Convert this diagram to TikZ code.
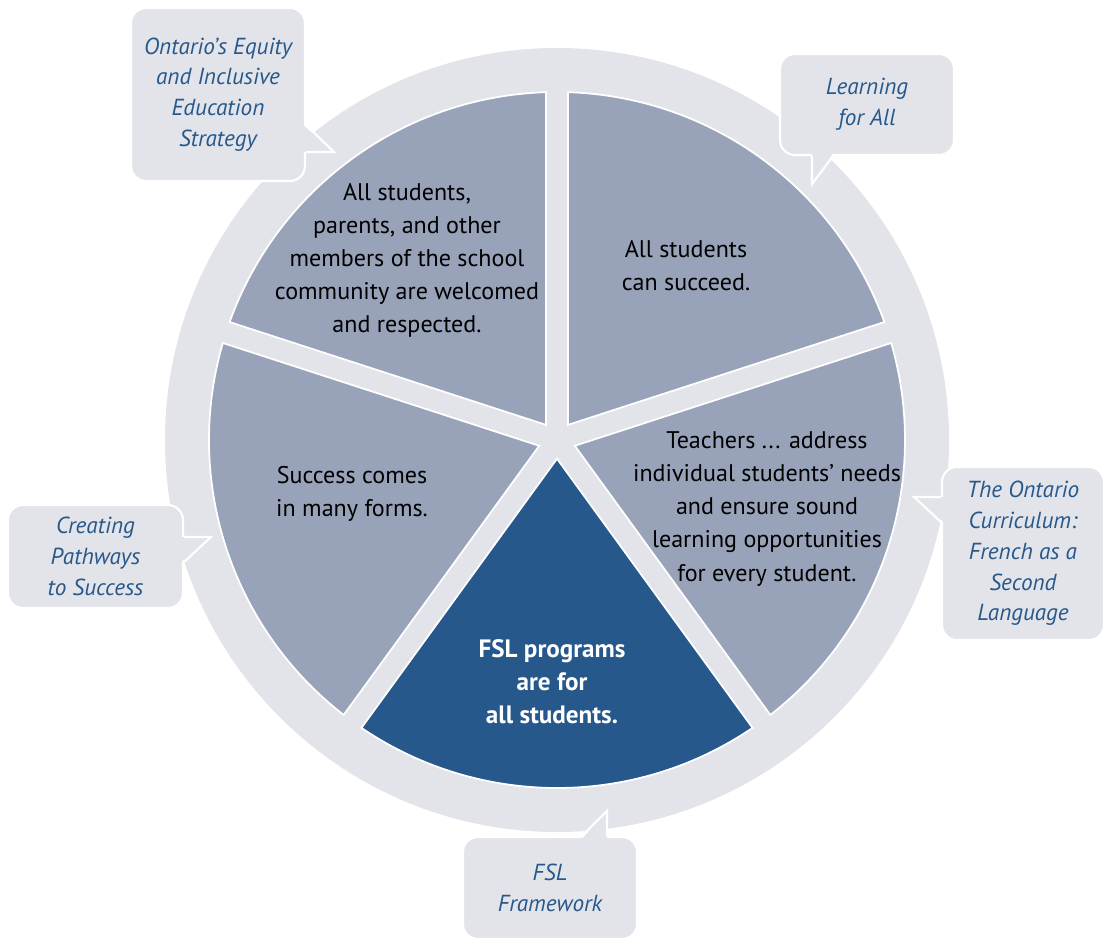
\documentclass[tikz,border=0pt]{standalone}
\usepackage{fontspec}
\setmainfont{PT Sans}
\usepackage{tikz}
\usetikzlibrary{calc,positioning}
\definecolor{myringgrey}{RGB}{227,228,233}
\definecolor{mysectorgrey}{RGB}{152,163,185}
\definecolor{myfslblue}{RGB}{38,88,140}
\tikzstyle{sector}=[draw=white,line width=1pt]
\tikzstyle{sectortext}=[align=center,font=\fontsize{13.7}{18.8}\selectfont]
\tikzstyle{callout}=[fill=myringgrey,draw=white,line width=1.2pt,rounded corners=0.3cm,
  align=center,inner sep=0pt,text=myfslblue,font=\fontsize{13.2}{17.5}\selectfont\itshape]
\tikzstyle{pointer}=[fill=myringgrey]
\tikzstyle{pointerline}=[draw=white,line width=1.2pt]

\begin{document}
\begin{tikzpicture}[x=0.02cm,y=0.02cm]
\useasboundingbox (-557,-500) rectangle (547,440);
% ring and the five sectors
\fill[myringgrey] (0,0) circle[radius=392];
\foreach \a/\col in {270/myfslblue,342/mysectorgrey,54/mysectorgrey,126/mysectorgrey,198/mysectorgrey}
  \filldraw[sector,fill=\col] (\a:18.7) -- (\a-34.19:348)
    arc[start angle=\a-34.19,end angle=\a+34.19,radius=348] -- cycle;

\node[sectortext] (welcome) at (-150,180) {All students,\\parents, and other\\members of the school\\community are welcomed\\and respected.};
\node[sectortext] (succeed) at (129,174) {All students\\can succeed.};
\node[sectortext] (forms) at (-205,-54) {Success comes\\in many forms.};
\node[sectortext] (teachers) at (210,-69) {Teachers ... address\\individual students’ needs\\and ensure sound\\learning opportunities\\for every student.};
\node[sectortext,text=white,font=\fontsize{14.3}{18.8}\selectfont\bfseries] (fslall) at (-5,-242) {FSL programs\\are for\\all students.};

% callouts
\node[callout,minimum width=3.48cm,minimum height=3.46cm] (equity) at (-339,345.5) {Ontario’s Equity\\and Inclusive\\Education\\Strategy};
\node[callout,minimum width=3.48cm,minimum height=2.02cm] (lfa) at (310,335.5) {Learning\\for All};
\node[callout,minimum width=3.24cm,minimum height=3.46cm] (curric) at (466,-113.5) {The Ontario\\Curriculum:\\French as a\\Second\\Language};
\node[callout,minimum width=3.5cm,minimum height=2.06cm] (pathways) at (-461.5,-116.5) {Creating\\Pathways\\to Success};
\node[callout,minimum width=3.48cm,minimum height=2.04cm] (framework) at (-7,-448) {FSL\\Framework};

% pointers of the callouts
\coordinate (equity tip) at ($(equity.east)+(28,-57.5)$);
\coordinate (lfa tip) at ($(lfa.south)+(-55,-28)$);
\coordinate (curric tip) at ($(curric.west)+(-27,56.5)$);
\coordinate (pathways tip) at ($(pathways.east)+(27,19.5)$);
\coordinate (framework tip) at ($(framework.north)+(57,25)$);
\fill[pointer] ($(equity.east)+(-3,-30.5)$) -- (equity tip) -- ($(equity.east)+(-3,-57.5)$) -- cycle;
\draw[pointerline] ($(equity.east)+(0,-30.5)$) -- (equity tip) -- ($(equity.east)+(0,-57.5)$);
\fill[pointer] ($(lfa.south)+(-55,3)$) -- (lfa tip) -- ($(lfa.south)+(-34,3)$) -- cycle;
\draw[pointerline] ($(lfa.south)+(-55,0)$) -- (lfa tip) -- ($(lfa.south)+(-34,0)$);
\fill[pointer] ($(curric.west)+(3,56.5)$) -- (curric tip) -- ($(curric.west)+(3,31.5)$) -- cycle;
\draw[pointerline] ($(curric.west)+(0,56.5)$) -- (curric tip) -- ($(curric.west)+(0,31.5)$);
\fill[pointer] ($(pathways.east)+(-3,19.5)$) -- (pathways tip) -- ($(pathways.east)+(-3,-5.5)$) -- cycle;
\draw[pointerline] ($(pathways.east)+(0,19.5)$) -- (pathways tip) -- ($(pathways.east)+(0,-5.5)$);
\fill[pointer] ($(framework.north)+(32,-3)$) -- (framework tip) -- ($(framework.north)+(57,-3)$) -- cycle;
\draw[pointerline] ($(framework.north)+(32,0)$) -- (framework tip) -- ($(framework.north)+(57,0)$);
\end{tikzpicture}
\end{document}
